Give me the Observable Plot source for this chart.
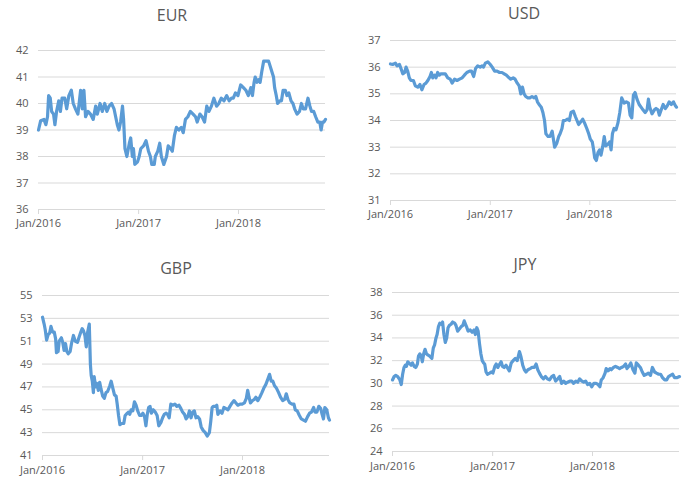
<!DOCTYPE html>
<html>
<head>
<meta charset="utf-8">
<script src="https://cdn.jsdelivr.net/npm/d3@7"></script>
<script src="https://cdn.jsdelivr.net/npm/@observablehq/plot@0.6"></script>
<style>
  html, body { margin: 0; padding: 0; background: #fff; }
  #root { position: relative; width: 684px; height: 478px; overflow: hidden; font-family: "Open Sans", sans-serif; }
  .panel { position: absolute; }
  .title { position: absolute; width: 140px; text-align: center; font-size: 16px; line-height: 18px; color: #595959; font-family: "Open Sans", sans-serif; }
</style>
</head>
<body>
<div id="root"></div>
<script>
// ---- Data ----
const titles = ["EUR", "USD", "GBP", "JPY"];
const xTickLabels = ["2016-01-01", "2017-01-01", "2018-01-01"];
const xDomain = ["2016-01-01", "2018-11-15"];

const eurTicks = [36, 37, 38, 39, 40, 41, 42];
const usdTicks = [31, 32, 33, 34, 35, 36, 37];
const gbpTicks = [41, 43, 45, 47, 49, 51, 53, 55];
const jpyTicks = [24, 26, 28, 30, 32, 34, 36, 38];

const eur = [["2016-01-01",39.0],["2016-01-09",39.35],["2016-01-21",39.4],["2016-01-28",39.2],["2016-02-03",39.5],["2016-02-07",40.3],["2016-02-13",40.2],["2016-02-18",39.7],["2016-02-25",39.6],["2016-03-01",39.2],["2016-03-07",39.7],["2016-03-15",40.1],["2016-03-21",39.7],["2016-03-27",40.2],["2016-04-06",40.2],["2016-04-13",39.8],["2016-04-21",40.3],["2016-04-30",40.5],["2016-05-07",40.0],["2016-05-15",39.8],["2016-05-24",39.6],["2016-06-03",40.5],["2016-06-09",39.8],["2016-06-15",40.5],["2016-06-21",39.5],["2016-06-30",39.7],["2016-07-09",39.6],["2016-07-19",39.4],["2016-07-28",39.9],["2016-08-03",39.6],["2016-08-13",40.0],["2016-08-21",39.7],["2016-08-30",40.0],["2016-09-07",39.7],["2016-09-15",39.9],["2016-09-24",40.0],["2016-10-03",39.8],["2016-10-09",39.5],["2016-10-15",39.2],["2016-10-21",39.0],["2016-10-27",39.3],["2016-11-03",39.9],["2016-11-07",39.4],["2016-11-12",38.3],["2016-11-19",38.0],["2016-11-28",38.5],["2016-12-03",38.7],["2016-12-09",38.0],["2016-12-13",38.3],["2016-12-18",37.7],["2016-12-28",37.8],["2017-01-03",38.0],["2017-01-09",38.3],["2017-01-19",38.4],["2017-01-28",38.6],["2017-02-06",38.2],["2017-02-13",38.0],["2017-02-18",37.7],["2017-02-27",37.7],["2017-03-03",38.0],["2017-03-12",38.2],["2017-03-19",38.5],["2017-03-25",38.0],["2017-04-03",37.7],["2017-04-13",38.0],["2017-04-19",38.4],["2017-04-28",38.3],["2017-05-04",38.2],["2017-05-12",38.8],["2017-05-19",39.1],["2017-05-28",39.0],["2017-06-06",39.1],["2017-06-13",38.9],["2017-06-21",39.4],["2017-06-30",39.5],["2017-07-09",39.7],["2017-07-19",39.6],["2017-07-28",39.5],["2017-08-03",39.3],["2017-08-13",39.6],["2017-08-21",39.5],["2017-08-30",39.3],["2017-09-07",39.9],["2017-09-15",39.7],["2017-09-24",39.9],["2017-10-03",40.2],["2017-10-13",39.9],["2017-10-21",40.0],["2017-10-30",40.2],["2017-11-09",40.1],["2017-11-19",40.3],["2017-11-28",40.1],["2017-12-06",40.2],["2017-12-13",40.2],["2017-12-21",40.4],["2017-12-30",40.3],["2018-01-09",40.7],["2018-01-19",40.6],["2018-01-28",40.5],["2018-02-06",40.3],["2018-02-15",40.6],["2018-02-21",40.3],["2018-02-27",40.8],["2018-03-03",41.0],["2018-03-09",40.8],["2018-03-15",40.9],["2018-03-21",40.8],["2018-03-27",41.2],["2018-04-03",41.6],["2018-04-15",41.6],["2018-04-21",41.6],["2018-04-27",41.4],["2018-05-03",41.2],["2018-05-09",41.0],["2018-05-13",40.6],["2018-05-19",40.3],["2018-05-24",40.0],["2018-06-01",40.1],["2018-06-07",40.1],["2018-06-13",40.5],["2018-06-21",40.5],["2018-06-27",40.3],["2018-07-04",40.4],["2018-07-12",40.1],["2018-07-19",40.0],["2018-07-25",39.8],["2018-08-03",39.6],["2018-08-12",39.7],["2018-08-19",40.0],["2018-08-25",39.8],["2018-09-03",39.8],["2018-09-12",40.2],["2018-09-19",39.9],["2018-09-25",39.7],["2018-10-03",39.7],["2018-10-10",39.5],["2018-10-18",39.3],["2018-10-25",39.3],["2018-10-30",39.0],["2018-11-04",39.3],["2018-11-09",39.3],["2018-11-15",39.4]];

const usd = [["2016-01-01",36.12],["2016-01-09",36.1],["2016-01-19",36.15],["2016-01-25",36.05],["2016-02-03",36.1],["2016-02-10",35.9],["2016-02-15",35.75],["2016-02-22",35.8],["2016-02-27",36.0],["2016-03-04",35.85],["2016-03-10",35.6],["2016-03-16",35.5],["2016-03-25",35.5],["2016-04-01",35.3],["2016-04-10",35.25],["2016-04-18",35.35],["2016-04-25",35.15],["2016-05-03",35.35],["2016-05-10",35.4],["2016-05-17",35.5],["2016-05-25",35.65],["2016-05-30",35.8],["2016-06-04",35.6],["2016-06-11",35.7],["2016-06-16",35.6],["2016-06-22",35.8],["2016-06-28",35.7],["2016-07-04",35.75],["2016-07-10",35.75],["2016-07-20",35.75],["2016-07-29",35.6],["2016-08-07",35.55],["2016-08-14",35.4],["2016-08-23",35.55],["2016-09-01",35.5],["2016-09-10",35.55],["2016-09-20",35.6],["2016-09-28",35.7],["2016-10-07",35.8],["2016-10-17",35.85],["2016-10-24",35.85],["2016-11-01",35.65],["2016-11-08",35.95],["2016-11-16",36.05],["2016-11-25",36.0],["2016-12-02",36.05],["2016-12-07",36.0],["2016-12-14",36.15],["2016-12-23",36.2],["2017-01-01",36.1],["2017-01-08",36.0],["2017-01-17",35.85],["2017-01-26",35.85],["2017-02-04",35.8],["2017-02-13",35.8],["2017-02-21",35.75],["2017-03-01",35.7],["2017-03-11",35.6],["2017-03-17",35.55],["2017-03-26",35.6],["2017-04-02",35.55],["2017-04-10",35.4],["2017-04-17",35.3],["2017-04-23",35.0],["2017-04-29",35.25],["2017-05-05",35.0],["2017-05-11",34.9],["2017-05-19",34.85],["2017-05-26",34.85],["2017-06-03",34.9],["2017-06-11",34.85],["2017-06-17",34.9],["2017-06-23",34.7],["2017-06-29",34.6],["2017-07-07",34.5],["2017-07-13",34.3],["2017-07-19",34.0],["2017-07-24",33.5],["2017-08-01",33.4],["2017-08-08",33.4],["2017-08-16",33.6],["2017-08-22",33.2],["2017-08-25",33.0],["2017-09-02",33.15],["2017-09-09",33.4],["2017-09-14",33.5],["2017-09-21",33.7],["2017-09-26",34.0],["2017-10-03",34.0],["2017-10-11",34.05],["2017-10-18",34.0],["2017-10-24",34.3],["2017-11-02",34.35],["2017-11-09",34.15],["2017-11-15",34.0],["2017-11-21",33.85],["2017-11-29",33.95],["2017-12-06",34.05],["2017-12-13",33.9],["2017-12-21",33.7],["2017-12-28",33.5],["2018-01-03",33.3],["2018-01-10",33.2],["2018-01-15",32.9],["2018-01-19",32.6],["2018-01-25",32.5],["2018-01-31",32.8],["2018-02-06",32.9],["2018-02-11",32.7],["2018-02-17",33.0],["2018-02-23",33.4],["2018-02-28",33.05],["2018-03-08",33.1],["2018-03-15",33.2],["2018-03-20",32.9],["2018-03-25",33.5],["2018-03-31",33.7],["2018-04-07",33.65],["2018-04-14",33.9],["2018-04-21",34.3],["2018-04-28",34.85],["2018-05-07",34.65],["2018-05-15",34.7],["2018-05-23",34.65],["2018-05-29",34.2],["2018-06-04",34.1],["2018-06-10",34.95],["2018-06-16",35.05],["2018-06-23",34.8],["2018-07-01",34.6],["2018-07-08",34.5],["2018-07-15",34.4],["2018-07-23",34.3],["2018-07-30",34.4],["2018-08-04",34.8],["2018-08-09",34.5],["2018-08-17",34.25],["2018-08-26",34.4],["2018-09-01",34.45],["2018-09-08",34.4],["2018-09-13",34.2],["2018-09-20",34.4],["2018-09-27",34.6],["2018-10-05",34.45],["2018-10-12",34.55],["2018-10-19",34.7],["2018-10-27",34.6],["2018-11-04",34.7],["2018-11-11",34.55],["2018-11-15",34.5]];

const gbp = [["2016-01-01",53.1],["2016-01-07",52.5],["2016-01-11",52.0],["2016-01-16",51.1],["2016-01-22",51.6],["2016-01-27",51.7],["2016-02-01",52.3],["2016-02-07",51.8],["2016-02-13",51.8],["2016-02-18",51.2],["2016-02-21",50.0],["2016-02-27",50.1],["2016-03-02",51.0],["2016-03-10",51.3],["2016-03-15",50.9],["2016-03-20",50.2],["2016-03-25",50.8],["2016-03-30",50.1],["2016-04-04",49.9],["2016-04-11",50.1],["2016-04-16",50.8],["2016-04-23",51.5],["2016-04-30",51.0],["2016-05-08",50.9],["2016-05-13",51.3],["2016-05-20",51.8],["2016-05-25",52.1],["2016-05-30",51.9],["2016-06-04",51.5],["2016-06-09",50.5],["2016-06-14",51.8],["2016-06-20",52.5],["2016-06-24",49.0],["2016-06-27",48.0],["2016-07-01",47.5],["2016-07-05",46.5],["2016-07-08",47.9],["2016-07-13",47.0],["2016-07-18",47.3],["2016-07-23",46.7],["2016-07-28",47.4],["2016-08-02",46.8],["2016-08-08",46.2],["2016-08-14",46.0],["2016-08-20",46.5],["2016-08-26",46.6],["2016-09-03",47.1],["2016-09-08",47.5],["2016-09-14",46.9],["2016-09-20",46.3],["2016-09-26",46.2],["2016-09-30",45.5],["2016-10-05",44.5],["2016-10-10",43.7],["2016-10-17",43.8],["2016-10-24",43.8],["2016-10-29",44.5],["2016-11-06",44.7],["2016-11-11",44.8],["2016-11-15",44.6],["2016-11-20",45.0],["2016-11-26",44.9],["2016-12-02",45.7],["2016-12-08",45.4],["2016-12-14",44.9],["2016-12-21",44.5],["2016-12-27",44.5],["2017-01-02",44.7],["2017-01-08",44.4],["2017-01-13",43.6],["2017-01-18",44.6],["2017-01-23",45.2],["2017-01-28",45.3],["2017-02-02",44.7],["2017-02-09",45.0],["2017-02-16",44.8],["2017-02-23",44.5],["2017-03-01",43.6],["2017-03-09",43.9],["2017-03-15",44.3],["2017-03-21",44.6],["2017-03-28",44.7],["2017-04-02",44.6],["2017-04-08",44.3],["2017-04-14",45.5],["2017-04-22",45.4],["2017-04-29",45.5],["2017-05-06",45.3],["2017-05-14",45.4],["2017-05-21",45.1],["2017-05-27",44.8],["2017-06-03",44.6],["2017-06-09",44.2],["2017-06-15",44.4],["2017-06-21",44.9],["2017-06-27",44.3],["2017-07-03",44.8],["2017-07-09",44.9],["2017-07-15",44.3],["2017-07-21",44.4],["2017-07-28",44.2],["2017-08-03",43.5],["2017-08-10",43.2],["2017-08-18",43.0],["2017-08-25",42.7],["2017-09-02",43.0],["2017-09-07",44.0],["2017-09-12",45.2],["2017-09-16",45.3],["2017-09-24",45.3],["2017-09-29",45.4],["2017-10-03",44.6],["2017-10-11",44.9],["2017-10-18",44.7],["2017-10-25",45.2],["2017-11-02",45.1],["2017-11-09",45.0],["2017-11-16",45.3],["2017-11-24",45.6],["2017-12-01",45.8],["2017-12-08",45.6],["2017-12-15",45.4],["2017-12-23",45.5],["2017-12-31",45.5],["2018-01-08",45.6],["2018-01-15",46.0],["2018-01-20",46.7],["2018-01-25",46.1],["2018-01-30",45.6],["2018-02-06",45.8],["2018-02-13",45.9],["2018-02-19",46.1],["2018-02-26",45.8],["2018-03-05",46.1],["2018-03-13",46.5],["2018-03-20",46.9],["2018-03-27",47.2],["2018-04-04",47.7],["2018-04-10",48.1],["2018-04-16",47.5],["2018-04-22",47.5],["2018-04-28",47.1],["2018-05-05",46.9],["2018-05-13",46.5],["2018-05-20",46.1],["2018-05-28",45.8],["2018-06-04",45.9],["2018-06-10",46.4],["2018-06-16",45.9],["2018-06-23",45.6],["2018-07-01",45.5],["2018-07-08",45.5],["2018-07-13",45.0],["2018-07-20",44.9],["2018-07-28",44.5],["2018-08-04",44.2],["2018-08-12",44.1],["2018-08-19",44.0],["2018-08-27",44.4],["2018-09-03",44.7],["2018-09-10",44.8],["2018-09-18",45.2],["2018-09-23",44.8],["2018-09-30",44.8],["2018-10-07",45.3],["2018-10-14",45.1],["2018-10-19",44.6],["2018-10-24",44.2],["2018-10-29",45.2],["2018-11-05",45.0],["2018-11-11",44.3],["2018-11-15",44.1]];

const jpy = [["2016-01-01",30.3],["2016-01-07",30.6],["2016-01-13",30.7],["2016-01-20",30.6],["2016-01-28",30.3],["2016-02-02",29.9],["2016-02-07",30.8],["2016-02-12",31.4],["2016-02-17",31.6],["2016-02-21",31.5],["2016-02-26",31.9],["2016-03-01",31.8],["2016-03-09",31.6],["2016-03-14",31.8],["2016-03-20",31.5],["2016-03-26",31.4],["2016-04-01",31.7],["2016-04-05",32.4],["2016-04-10",32.6],["2016-04-15",32.4],["2016-04-19",31.9],["2016-04-24",32.6],["2016-04-29",33.0],["2016-05-04",32.6],["2016-05-09",32.5],["2016-05-16",32.4],["2016-05-24",32.2],["2016-05-29",33.1],["2016-06-03",33.4],["2016-06-08",34.0],["2016-06-12",34.3],["2016-06-17",35.0],["2016-06-22",35.3],["2016-06-27",35.2],["2016-07-02",35.4],["2016-07-07",34.3],["2016-07-12",33.6],["2016-07-17",34.0],["2016-07-22",34.9],["2016-07-27",35.1],["2016-08-02",35.2],["2016-08-08",35.4],["2016-08-15",35.3],["2016-08-20",35.1],["2016-08-26",34.6],["2016-09-02",34.8],["2016-09-08",35.0],["2016-09-14",35.1],["2016-09-19",35.5],["2016-09-24",35.2],["2016-09-29",34.9],["2016-10-03",34.6],["2016-10-11",34.7],["2016-10-18",34.5],["2016-10-25",34.7],["2016-10-30",34.3],["2016-11-04",34.9],["2016-11-09",34.6],["2016-11-14",33.5],["2016-11-19",32.6],["2016-11-24",32.0],["2016-11-29",31.8],["2016-12-03",31.7],["2016-12-08",31.0],["2016-12-13",30.8],["2016-12-21",30.9],["2016-12-28",31.0],["2017-01-02",30.9],["2017-01-09",31.5],["2017-01-14",31.7],["2017-01-20",31.4],["2017-01-27",31.7],["2017-02-01",31.9],["2017-02-06",31.5],["2017-02-12",31.4],["2017-02-19",31.6],["2017-02-26",31.3],["2017-03-03",31.1],["2017-03-10",31.8],["2017-03-17",32.0],["2017-03-25",32.2],["2017-04-01",32.0],["2017-04-09",32.8],["2017-04-15",32.3],["2017-04-21",31.6],["2017-04-27",31.2],["2017-05-03",31.0],["2017-05-10",31.2],["2017-05-18",31.3],["2017-05-25",31.4],["2017-06-02",31.4],["2017-06-09",31.7],["2017-06-15",31.2],["2017-06-21",30.9],["2017-06-28",30.6],["2017-07-06",30.4],["2017-07-13",30.6],["2017-07-20",30.4],["2017-07-28",30.3],["2017-08-05",30.6],["2017-08-12",30.7],["2017-08-19",30.2],["2017-08-27",30.4],["2017-09-03",30.6],["2017-09-10",30.0],["2017-09-18",30.2],["2017-09-25",30.0],["2017-10-02",30.1],["2017-10-10",30.2],["2017-10-17",30.2],["2017-10-24",30.0],["2017-11-01",30.2],["2017-11-08",30.1],["2017-11-15",30.4],["2017-11-23",30.2],["2017-11-30",30.1],["2017-12-07",30.2],["2017-12-14",29.9],["2017-12-22",30.0],["2017-12-29",29.7],["2018-01-06",30.0],["2018-01-14",30.0],["2018-01-21",29.9],["2018-01-28",29.7],["2018-02-02",30.3],["2018-02-09",30.5],["2018-02-16",30.9],["2018-02-20",31.3],["2018-02-27",31.1],["2018-03-06",31.3],["2018-03-11",31.2],["2018-03-19",31.4],["2018-03-26",31.5],["2018-04-03",31.4],["2018-04-10",31.3],["2018-04-17",31.4],["2018-04-25",31.5],["2018-05-02",31.7],["2018-05-07",31.3],["2018-05-14",31.5],["2018-05-21",31.8],["2018-05-29",31.2],["2018-06-05",30.9],["2018-06-10",31.8],["2018-06-18",31.6],["2018-06-25",31.4],["2018-07-02",31.0],["2018-07-09",30.7],["2018-07-17",30.8],["2018-07-24",30.9],["2018-08-01",30.7],["2018-08-08",31.4],["2018-08-16",31.0],["2018-08-23",30.9],["2018-08-31",30.8],["2018-09-07",30.8],["2018-09-14",30.5],["2018-09-22",30.3],["2018-09-29",30.3],["2018-10-06",30.6],["2018-10-13",30.7],["2018-10-21",30.8],["2018-10-28",30.5],["2018-11-05",30.5],["2018-11-15",30.6]];

// ---- Layout (panel frames) ----
const panels = [
  {title: titles[0], data: eur, ticks: eurTicks, left: 0,   top: 30,  mL: 38, mR: 17, mT: 20, mB: 28, h: 207, pad: 5, tx: 172, ty: 6},
  {title: titles[1], data: usd, ticks: usdTicks, left: 342, top: 20,  mL: 48, mR: 8,  mT: 20, mB: 28, h: 208, pad: 5, tx: 524, ty: 4},
  {title: titles[2], data: gbp, ticks: gbpTicks, left: 0,   top: 275, mL: 42, mR: 13, mT: 20, mB: 23, h: 203, pad: 6, tx: 176, ty: 259},
  {title: titles[3], data: jpy, ticks: jpyTicks, left: 342, top: 272, mL: 50, mR: 5,  mT: 20, mB: 26, h: 205, pad: 6, tx: 525, ty: 255}
];

const root = document.getElementById("root");
const parse = d3.utcParse("%Y-%m-%d");
const fmt = d3.utcFormat("%b/%Y");

for (const p of panels) {
  const rows = p.data.map(([d, v]) => ({date: parse(d), value: v}));
  const chart = Plot.plot({
    width: 342,
    height: p.h,
    marginLeft: p.mL,
    marginRight: p.mR,
    marginTop: p.mT,
    marginBottom: p.mB,
    style: {fontFamily: "Open Sans, sans-serif", fontSize: "11px", color: "#595959", background: "transparent", overflow: "visible"},
    x: {type: "utc", domain: xDomain.map(parse)},
    y: {domain: [p.ticks[0], p.ticks[p.ticks.length - 1]]},
    marks: [
      Plot.ruleY(p.ticks, {stroke: "#d9d9d9", strokeWidth: 1}),
      Plot.axisY({ticks: p.ticks, tickFormat: d3.format("d"), tickSize: 0, tickPadding: 10, fill: "#595959", label: null, fontSize: 11}),
      Plot.axisX({ticks: xTickLabels.map(parse), tickFormat: fmt, tickSize: 5, tickPadding: p.pad, stroke: "#d9d9d9", fill: "#595959", label: null, fontSize: 11}),
      Plot.lineY(rows, {x: "date", y: "value", stroke: "#5B9BD5", strokeWidth: 3.2, strokeLinejoin: "round", strokeLinecap: "round"})
    ]
  });
  chart.classList.add("panel");
  chart.style.left = p.left + "px";
  chart.style.top = p.top + "px";
  root.appendChild(chart);

  const t = document.createElement("div");
  t.className = "title";
  t.textContent = p.title;
  t.style.left = (p.tx - 70) + "px";
  t.style.top = p.ty + "px";
  root.appendChild(t);
}
</script>
</body>
</html>
